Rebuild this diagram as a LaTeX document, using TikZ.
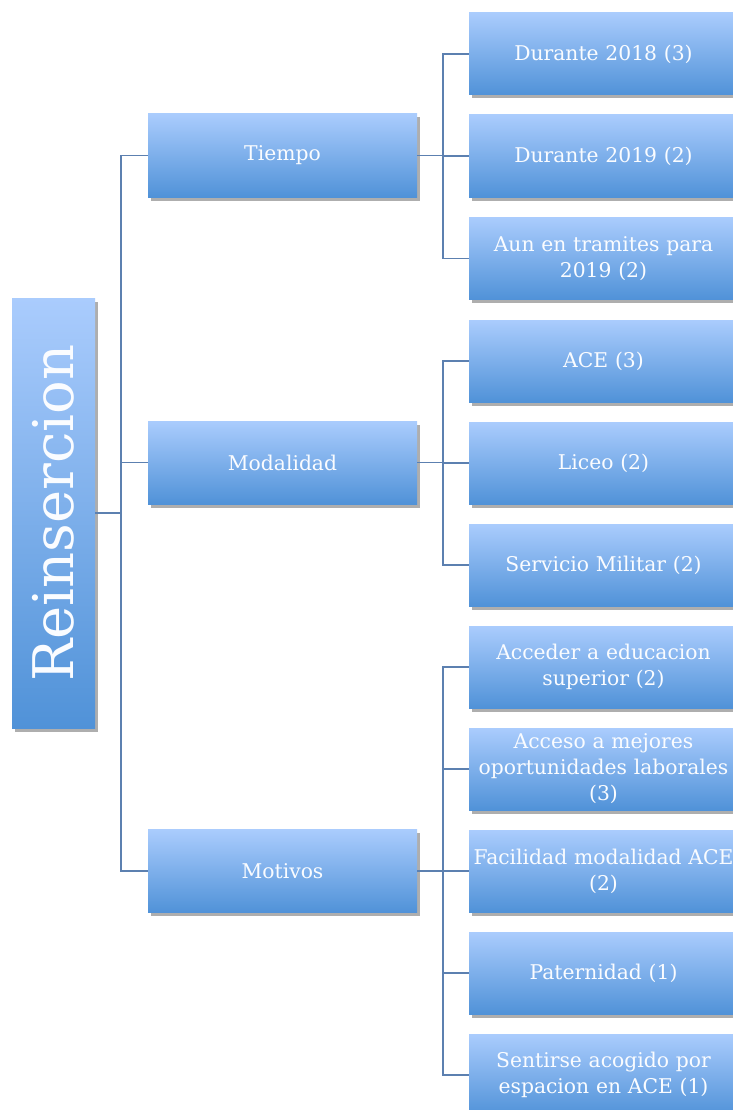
\documentclass[tikz,border=0pt]{standalone}
\usepackage{fontspec}
\setmainfont{DejaVu Serif}
\usetikzlibrary{shadows}
\definecolor{topc}{RGB}{170,204,253}
\definecolor{botc}{RGB}{80,146,216}
\definecolor{linec}{RGB}{92,128,176}
\definecolor{txtc}{RGB}{250,252,255}
\begin{document}
\begin{tikzpicture}[x=1pt,y=-1pt,
  boxbase/.style={inner sep=1pt, align=center, text=txtc, top color=topc, bottom color=botc, draw=none,
     drop shadow={shadow xshift=2.5pt, shadow yshift=-3.5pt, opacity=0.45, fill=black!70}},
  lone/.style={boxbase, minimum width=269pt, minimum height=83pt, font=\fontsize{20.3}{26}\selectfont},
  ltwo/.style={boxbase, minimum width=269pt, minimum height=82pt, text width=265pt, font=\fontsize{20.3}{26}\selectfont},
  rootbox/.style={boxbase, minimum width=83pt, minimum height=430pt},
  conn/.style={draw=linec, line width=1.8pt}]
\useasboundingbox (0,0) rectangle (732,1110);
\fill[white] (0,0) rectangle (732,1110);
% root
\node[rootbox] (root) at (53.5,513) {};
\node[text=txtc, rotate=90, font=\fontsize{56}{60}\selectfont] (roottxt) at (root.center) {Reinsercion};
% level 1
\node[lone] (tiempo) at (282.5,155.5) {Tiempo};
\node[lone] (modal) at (282.5,462.5) {Modalidad};
\node[lone] (motiv) at (282.5,871) {Motivos};
% level 2
\node[ltwo] (d18) at (603.5,54) {Durante 2018 (3)};
\node[ltwo] (d19) at (603.5,156) {Durante 2019 (2)};
\node[ltwo] (aun) at (603.5,258.5) {Aun en tramites para\\2019 (2)};
\node[ltwo] (ace) at (603.5,361) {ACE (3)};
\node[ltwo] (liceo) at (603.5,463) {Liceo (2)};
\node[ltwo] (serv) at (603.5,565) {Servicio Militar (2)};
\node[ltwo] (acc) at (603.5,667) {Acceder a educacion\\superior (2)};
\node[ltwo] (mej) at (603.5,769) {Acceso a mejores\\oportunidades laborales\\(3)};
\node[ltwo] (fac) at (603.5,871) {Facilidad modalidad ACE\\(2)};
\node[ltwo] (pat) at (603.5,973) {Paternidad (1)};
\node[ltwo] (sent) at (603.5,1075) {Sentirse acogido por\\espacion en ACE (1)};
% connectors
\draw[conn] (root.east) -- ++(26,0) coordinate (ja);
\draw[conn] (ja) |- (tiempo.west);
\draw[conn] (ja) |- (modal.west);
\draw[conn] (ja) |- (motiv.west);
\draw[conn] (tiempo.east) -- ++(26,0) coordinate (jb);
\draw[conn] (jb) |- (d18.west);
\draw[conn] (jb) |- (d19.west);
\draw[conn] (jb) |- (aun.west);
\draw[conn] (modal.east) -- ++(26,0) coordinate (jc);
\draw[conn] (jc) |- (ace.west);
\draw[conn] (jc) |- (liceo.west);
\draw[conn] (jc) |- (serv.west);
\draw[conn] (motiv.east) -- ++(26,0) coordinate (jd);
\draw[conn] (jd) |- (acc.west);
\draw[conn] (jd) |- (mej.west);
\draw[conn] (jd) |- (fac.west);
\draw[conn] (jd) |- (pat.west);
\draw[conn] (jd) |- (sent.west);
\end{tikzpicture}
\end{document}
